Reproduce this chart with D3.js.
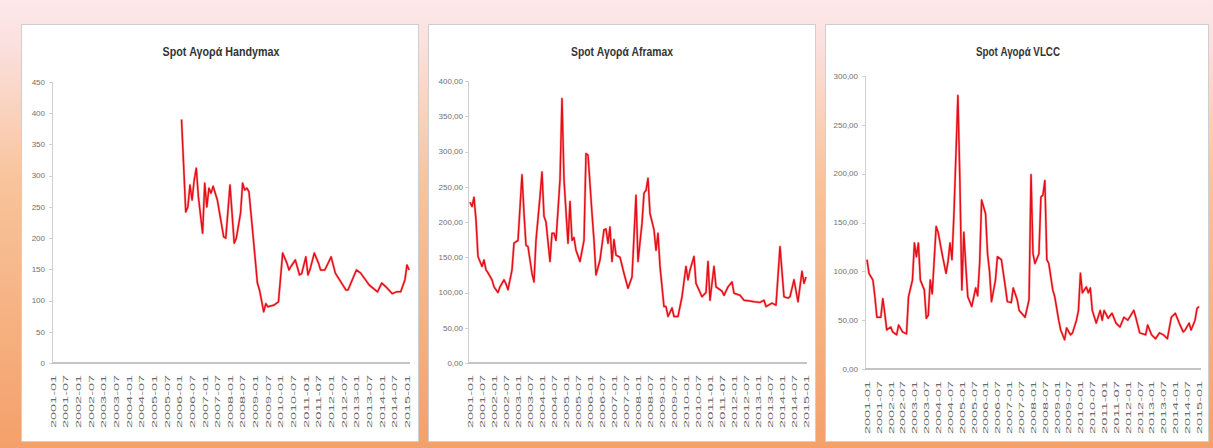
<!DOCTYPE html>
<html><head><meta charset="utf-8">
<script src="https://cdn.jsdelivr.net/npm/d3@7/dist/d3.min.js"></script>
<style>html,body{margin:0;padding:0;background:#fff;}svg{display:block;}</style>
</head><body><svg id="c" width="1213" height="448"></svg>
<script>
// ---------- data ----------
const tickLabels = ["2001-01","2001-07","2002-01","2002-07","2003-01","2003-07","2004-01","2004-07","2005-01","2005-07","2006-01","2006-07","2007-01","2007-07","2008-01","2008-07","2009-01","2009-07","2010-01","2010-07","2011-01","2011-07","2012-01","2012-07","2013-01","2013-07","2014-01","2014-07","2015-01"];

const titles = ["Spot Αγορά Handymax","Spot Αγορά Aframax","Spot Αγορά VLCC"];

const handymaxDates = ["2006-02","2006-04","2006-05","2006-06","2006-07","2006-08","2006-09","2006-10","2006-12","2007-01","2007-02","2007-03","2007-04","2007-05","2007-07","2007-10","2007-11","2008-01","2008-03","2008-04","2008-06","2008-07","2008-08","2008-09","2008-10","2008-12","2009-02","2009-03","2009-05","2009-06","2009-07","2009-10","2009-12","2010-02","2010-04","2010-05","2010-06","2010-08","2010-10","2010-11","2011-01","2011-02","2011-03","2011-05","2011-07","2011-08","2011-10","2012-01","2012-03","2012-05","2012-08","2012-09","2013-01","2013-03","2013-06","2013-07","2013-11","2014-01","2014-03","2014-06","2014-08","2014-10","2014-12","2015-01","2015-02"];
const handymaxValues = [390,242,250,285,261,293,312,266,208,288,250,280,272,283,261,202,200,285,192,200,240,288,277,280,274,202,128,117,82,95,90,93,98,176,160,149,155,165,141,143,170,141,150,176,160,149,149,170,144,133,117,117,149,144,130,125,114,128,122,111,114,114,133,157,149];

const aframaxDates = ["2001-01","2001-02","2001-03","2001-04","2001-05","2001-07","2001-08","2001-09","2001-10","2001-12","2002-01","2002-03","2002-04","2002-06","2002-07","2002-08","2002-10","2002-11","2003-01","2003-03","2003-04","2003-05","2003-06","2003-08","2003-09","2003-10","2003-12","2004-01","2004-02","2004-03","2004-05","2004-06","2004-07","2004-08","2004-10","2004-11","2004-12","2005-02","2005-03","2005-04","2005-05","2005-06","2005-08","2005-10","2005-11","2005-12","2006-02","2006-03","2006-04","2006-06","2006-08","2006-09","2006-10","2006-11","2006-12","2007-01","2007-02","2007-04","2007-06","2007-08","2007-10","2007-11","2007-12","2008-01","2008-03","2008-04","2008-05","2008-06","2008-07","2008-09","2008-10","2008-11","2008-12","2009-02","2009-03","2009-04","2009-06","2009-07","2009-09","2009-11","2010-01","2010-02","2010-03","2010-05","2010-06","2010-09","2010-11","2010-12","2011-01","2011-03","2011-04","2011-07","2011-08","2011-10","2011-12","2012-01","2012-04","2012-06","2012-09","2012-11","2013-02","2013-04","2013-05","2013-08","2013-10","2013-12","2014-02","2014-04","2014-05","2014-07","2014-09","2014-11","2014-12","2015-01"];
const aframaxValues = [228,222,235,203,151,137,146,132,128,118,108,100,108,118,112,104,132,170,174,267,212,167,165,127,115,174,236,271,208,200,144,184,184,174,260,375,260,170,229,174,178,160,144,174,297,295,212,174,125,146,189,190,170,193,144,175,153,150,127,106,122,179,238,144,198,241,245,262,212,189,160,184,137,80,80,66,78,66,66,94,137,118,132,151,113,94,100,144,89,137,108,102,96,108,115,99,96,89,88,87,86,89,80,85,82,165,94,92,94,118,87,130,113,122];

const vlccDates = ["2001-01","2001-02","2001-04","2001-05","2001-06","2001-08","2001-09","2001-10","2001-11","2002-01","2002-02","2002-04","2002-05","2002-07","2002-09","2002-10","2002-12","2003-01","2003-02","2003-03","2003-04","2003-06","2003-07","2003-08","2003-09","2003-10","2003-12","2004-01","2004-03","2004-05","2004-06","2004-07","2004-08","2004-09","2004-11","2004-12","2005-01","2005-02","2005-03","2005-04","2005-06","2005-08","2005-09","2005-10","2005-11","2006-01","2006-02","2006-03","2006-04","2006-06","2006-07","2006-09","2006-11","2006-12","2007-02","2007-03","2007-05","2007-06","2007-09","2007-11","2007-12","2008-01","2008-02","2008-04","2008-05","2008-06","2008-07","2008-08","2008-09","2008-11","2008-12","2009-02","2009-03","2009-05","2009-06","2009-08","2009-09","2009-11","2009-12","2010-01","2010-02","2010-04","2010-05","2010-06","2010-07","2010-09","2010-11","2010-12","2011-01","2011-03","2011-05","2011-07","2011-09","2011-11","2012-01","2012-04","2012-05","2012-07","2012-10","2012-11","2013-01","2013-03","2013-05","2013-07","2013-09","2013-11","2014-01","2014-03","2014-05","2014-06","2014-08","2014-09","2014-11","2014-12","2015-01"];
const vlccValues = [112,98,91,74,53,53,72,57,40,43,38,35,45,38,36,74,91,129,115,129,91,81,52,55,91,77,146,140,118,98,110,129,112,159,280,193,81,140,105,74,64,83,75,108,173,159,118,100,69,91,115,112,84,69,68,83,71,60,53,71,199,118,108,118,176,178,193,112,108,81,74,50,40,30,42,35,37,50,60,98,78,84,78,83,60,47,60,50,60,52,57,47,43,53,50,60,53,37,35,45,35,31,37,35,31,53,57,47,38,40,47,40,50,62,64];

// ---------- layout ----------
const commaFmt = d3.formatLocale({decimal:",",thousands:".",grouping:[3],currency:["","€"]}).format(".2f");
const panels = [
  {dates:handymaxDates, values:handymaxValues, title:titles[0], box:[21,24,418,441], xr:[53,407], yr:[363,82], ymax:450, fmt:d=>d, titleX:221, titleW:117, axL:52, axR:410, labR:45, labTop:375},
  {dates:aframaxDates, values:aframaxValues, title:titles[1], box:[428,24,815,441], xr:[470,806], yr:[363,81], ymax:400, fmt:commaFmt, titleX:622, titleW:102, axL:468, axR:807, labR:463, labTop:375},
  {dates:vlccDates, values:vlccValues, title:titles[2], box:[825,24,1208,441], xr:[867,1199], yr:[369,76], ymax:300, fmt:commaFmt, titleX:1018, titleW:84, axL:865, axR:1201, labR:858, labTop:381}
];

const svg = d3.select("#c");
const defs = svg.append("defs");
const g = defs.append("linearGradient").attr("id","bg").attr("x1",0).attr("y1",0).attr("x2",0).attr("y2",1);
g.append("stop").attr("offset","0%").attr("stop-color","#fce8ea");
g.append("stop").attr("offset","10%").attr("stop-color","#fbe0de");
g.append("stop").attr("offset","40%").attr("stop-color","#f8c49c");
g.append("stop").attr("offset","100%").attr("stop-color","#f4a06a");
svg.append("rect").attr("width",1213).attr("height",448).attr("fill","url(#bg)");

const monthIndex = s => { const [y,m] = s.split("-").map(Number); return (y-2001)*12 + (m-1); };

panels.forEach(p => {
  const [bx0,by0,bx1,by1] = p.box;
  svg.append("rect").attr("x",bx0+0.5).attr("y",by0+0.5).attr("width",bx1-bx0).attr("height",by1-by0)
     .attr("fill","#fff").attr("stroke","#cfcfcf").attr("stroke-width",1);

  const x = d3.scaleLinear().domain([0,168]).range(p.xr);
  const y = d3.scaleLinear().domain([0,p.ymax]).range(p.yr);
  const pg = svg.append("g");

  // title
  pg.append("text").attr("x",p.titleX).attr("y",56).attr("text-anchor","middle")
    .attr("font-family","Liberation Sans, Arial, sans-serif").attr("font-size",12.5).attr("font-weight","bold")
    .attr("fill","#333").attr("textLength",p.titleW).attr("lengthAdjust","spacingAndGlyphs").text(p.title);

  // y axis
  const yTicks = d3.range(0,p.ymax+1,50);
  pg.append("line").attr("x1",p.axL+0.5).attr("x2",p.axL+0.5).attr("y1",y(p.ymax)).attr("y2",y(0)).attr("stroke","#d0d0d0");
  pg.selectAll(".yt").data(yTicks).join("line").attr("x1",p.axL-3).attr("x2",p.axL).attr("y1",d=>Math.round(y(d))+0.5).attr("y2",d=>Math.round(y(d))+0.5).attr("stroke","#d0d0d0");
  pg.selectAll(".yl").data(yTicks).join("text").attr("x",p.labR).attr("y",d=>y(d)).attr("dy","0.35em")
    .attr("text-anchor","end").attr("font-family","Liberation Sans, Arial, sans-serif").attr("font-size",8)
    .attr("fill","#707070").text(d=>p.fmt(d));

  // x axis
  pg.append("line").attr("x1",p.axL).attr("x2",p.axR).attr("y1",y(0)).attr("y2",y(0)).attr("stroke","#c4c4c4").attr("stroke-width",2);
  pg.selectAll(".xl").data(tickLabels).join("text")
    .attr("transform",d=>`translate(${x(monthIndex(d))},${p.labTop}) rotate(-90)`)
    .attr("dy","0.35em").attr("text-anchor","end")
    .attr("font-family","Liberation Sans, Arial, sans-serif").attr("font-size",8).attr("fill","#6a6a6a")
    .attr("textLength",53).attr("lengthAdjust","spacingAndGlyphs").text(d=>d);

  // line
  const pts = p.dates.map((d,i)=>({m:monthIndex(d), v:p.values[i]}));
  const line = d3.line().x(d=>x(d.m)).y(d=>y(d.v));
  pg.append("path").datum(pts).attr("d",line).attr("fill","none").attr("stroke","#ff3030").attr("stroke-width",2.6).attr("stroke-opacity",0.35).attr("stroke-linejoin","round");
  pg.append("path").datum(pts).attr("d",line).attr("fill","none").attr("stroke","#e3101a").attr("stroke-width",1.5).attr("stroke-linejoin","round");
});
</script></body></html>
